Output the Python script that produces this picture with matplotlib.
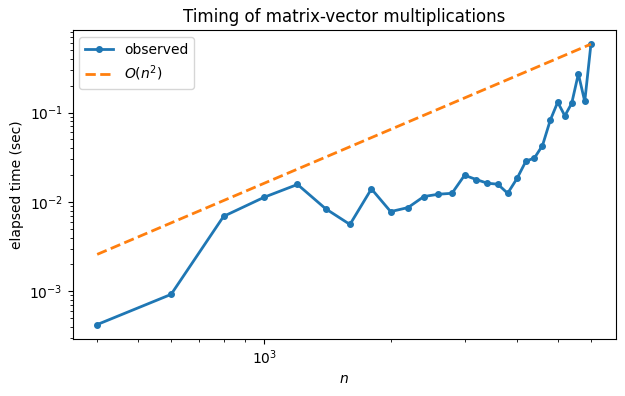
import numpy as np
import matplotlib
matplotlib.use('Agg')
import matplotlib.pyplot as plt

n = [400, 600, 800, 1000, 1200, 1400, 1600, 1800, 2000, 2200,
     2400, 2600, 2800, 3000, 3200, 3400, 3600, 3800, 4000, 4200,
     4400, 4600, 4800, 5000, 5200, 5400, 5600, 5800, 6000]
t = [4.25e-4, 9.25e-4, 6.9e-3, 1.13e-2, 1.57e-2, 8.4e-3, 5.6e-3, 1.4e-2, 7.8e-3, 8.65e-3,
     1.15e-2, 1.22e-2, 1.25e-2, 1.99e-2, 1.78e-2, 1.62e-2, 1.58e-2, 1.25e-2, 1.83e-2, 2.86e-2,
     3.1e-2, 4.28e-2, 8.2e-2, 0.1306, 9.2e-2, 0.127, 0.271, 0.133, 0.583]

labels = ['observed', '$O(n^2)$']


def make_fig(outfile):
    fig, ax = plt.subplots(figsize=(6.25, 3.96), dpi=100)
    fig.subplots_adjust(left=0.116, right=0.985, top=0.924, bottom=0.145)

    nn = np.array(n, dtype=float)
    # reference O(n^2) line anchored at the last observation
    ref = t[-1] * (nn / nn[-1]) ** 2

    ax.loglog(n, t, '-o', linewidth=2, markersize=4, label=labels[0])
    ax.loglog(n, ref, '--', linewidth=2, label=labels[1])

    ax.set_xlabel('$n$')
    ax.set_ylabel('elapsed time (sec)')
    ax.set_title('Timing of matrix-vector multiplications')
    ax.legend(loc='upper left')

    fig.savefig(outfile)


if __name__ == '__main__':
    make_fig('out.png')
